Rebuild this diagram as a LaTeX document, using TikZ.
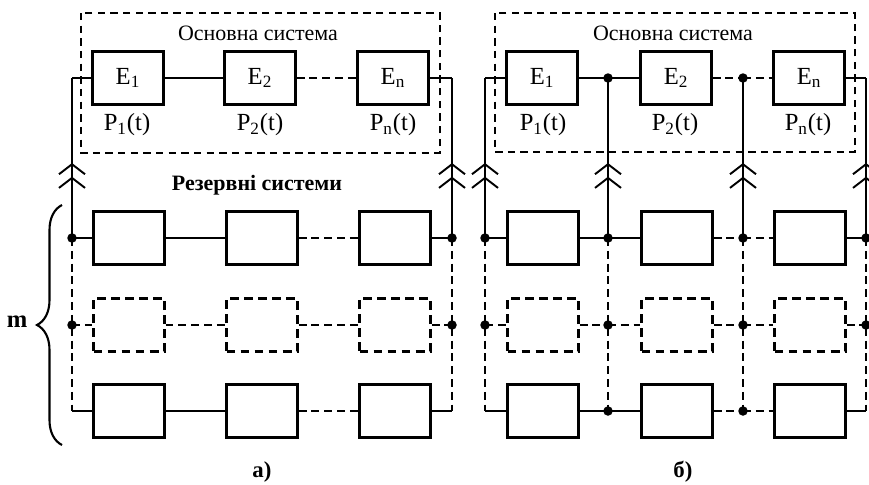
\documentclass[tikz,border=0pt]{standalone}
\usepackage{fontspec}
\setmainfont{Liberation Serif}
\usetikzlibrary{arrows.meta,decorations.pathreplacing}

\begin{document}
\begin{tikzpicture}[x=0.02cm,y=-0.02cm,
    elem/.style={draw,rectangle,line width=1.25pt,minimum width=1.42cm,minimum height=1.06cm,inner sep=0pt,font=\fontsize{14}{16}\selectfont},
    spare/.style={elem,dash pattern=on 5pt off 3pt},
    wire/.style={line width=1.1pt},
    dwire/.style={wire,dash pattern=on 4.5pt off 2.8pt},
    frame/.style={line width=1pt,dash pattern=on 4.2pt off 3pt},
    jdot/.style={circle,fill,inner sep=0pt,minimum size=0.19cm},
    plabel/.style={font=\fontsize{14}{16}\selectfont},
    title/.style={font=\fontsize{12.5}{15}\selectfont},
    dblbarb/.style={-{Straight Barb[length=0.2cm,width=0.52cm,sep=0.03cm]Straight Barb[length=0.2cm,width=0.52cm]}}]
    \useasboundingbox (0,0) rectangle (869,484);

    % ---- panel a ----
    \draw[frame] (81,13) rectangle (440,153);
    \node[title] (aMain) at (258,33) {Основна система};
    \node[elem] (aE1) at (128,78) {E\textsubscript{1}};
    \node[elem] (aE2) at (260,78) {E\textsubscript{2}};
    \node[elem] (aEn) at (393,78) {E\textsubscript{n}};
    \node[plabel] (aP1) at (127,125) {P\textsubscript{1}(t)};
    \node[plabel] (aP2) at (260,125) {P\textsubscript{2}(t)};
    \node[plabel] (aPn) at (393,125) {P\textsubscript{n}(t)};
    \node[title,font=\fontsize{12.5}{15}\selectfont\bfseries] (aRes) at (257,185) {Резервні системи};

    \node[elem] (aR11) at (129,238) {};
    \node[elem] (aR12) at (262,238) {};
    \node[elem] (aR13) at (395,238) {};
    \node[spare] (aR21) at (129,325) {};
    \node[spare] (aR22) at (262,325) {};
    \node[spare] (aR23) at (395,325) {};
    \node[elem] (aR31) at (129,411) {};
    \node[elem] (aR32) at (262,411) {};
    \node[elem] (aR33) at (395,411) {};

    \coordinate (alft0) at (72,78);
    \coordinate (alft1) at (72,238);
    \coordinate (alft2) at (72,325);
    \coordinate (alft3) at (72,411);
    \coordinate (argt0) at (452,78);
    \coordinate (argt1) at (452,238);
    \coordinate (argt2) at (452,325);
    \coordinate (argt3) at (452,411);
    \coordinate (achv1) at (72,163);
    \coordinate (achv2) at (452,163);

    \draw[wire] (alft0) -- (aE1);
    \draw[wire] (aE1) -- (aE2);
    \draw[dwire] (aE2) -- (aEn);
    \draw[wire] (aEn) -- (argt0);

    \draw[wire] (alft0) -- (alft1);
    \draw[wire] (argt0) -- (argt1);
    \draw[dwire] (alft1) -- (alft3);
    \draw[dwire] (argt1) -- (argt3);
    \draw[wire,dblbarb] (alft1) -- (achv1);
    \draw[wire,dblbarb] (argt1) -- (achv2);

    \draw[wire] (alft1) -- (aR11);
    \draw[wire] (aR11) -- (aR12);
    \draw[dwire] (aR12) -- (aR13);
    \draw[wire] (aR13) -- (argt1);
    \draw[dwire] (alft2) -- (aR21);
    \draw[dwire] (aR21) -- (aR22);
    \draw[dwire] (aR22) -- (aR23);
    \draw[dwire] (aR23) -- (argt2);
    \draw[wire] (alft3) -- (aR31);
    \draw[wire] (aR31) -- (aR32);
    \draw[dwire] (aR32) -- (aR33);
    \draw[wire] (aR33) -- (argt3);

    \node[jdot] at (alft1) {};
    \node[jdot] at (argt1) {};
    \node[jdot] at (alft2) {};
    \node[jdot] at (argt2) {};

    \draw[line width=1.2pt,decorate,decoration={brace,amplitude=0.5cm}] (62,445) -- (62,205);
    \node[title,font=\fontsize{14}{16}\selectfont\bfseries] (mlab) at (17,322) {m};
    \node[title,font=\fontsize{13}{15}\selectfont\bfseries] (aCap) at (262,472) {а)};

    % ---- panel b ----
    \draw[frame] (495,13) rectangle (855,152);
    \node[title] (bMain) at (673,33) {Основна система};
    \node[elem] (bE1) at (542,78) {E\textsubscript{1}};
    \node[elem] (bE2) at (676,78) {E\textsubscript{2}};
    \node[elem] (bEn) at (809,78) {E\textsubscript{n}};
    \node[plabel] (bP1) at (543,125) {P\textsubscript{1}(t)};
    \node[plabel] (bP2) at (675,125) {P\textsubscript{2}(t)};
    \node[plabel] (bPn) at (808,125) {P\textsubscript{n}(t)};

    \node[elem] (bR11) at (543,238) {};
    \node[elem] (bR12) at (677,238) {};
    \node[elem] (bR13) at (810,238) {};
    \node[spare] (bR21) at (543,325) {};
    \node[spare] (bR22) at (677,325) {};
    \node[spare] (bR23) at (810,325) {};
    \node[elem] (bR31) at (543,411) {};
    \node[elem] (bR32) at (677,411) {};
    \node[elem] (bR33) at (810,411) {};

    \coordinate (bw0) at (485,78);
    \coordinate (bw1) at (485,238);
    \coordinate (bw2) at (485,325);
    \coordinate (bw3) at (485,411);
    \coordinate (bj0) at (608,78);
    \coordinate (bj1) at (608,238);
    \coordinate (bj2) at (608,325);
    \coordinate (bj3) at (608,411);
    \coordinate (bk0) at (743,78);
    \coordinate (bk1) at (743,238);
    \coordinate (bk2) at (743,325);
    \coordinate (bk3) at (743,411);
    \coordinate (be0) at (866,78);
    \coordinate (be1) at (866,238);
    \coordinate (be2) at (866,325);
    \coordinate (be3) at (866,411);
    \coordinate (bchvw) at (485,163);
    \coordinate (bchvj) at (608,163);
    \coordinate (bchvk) at (743,163);
    \coordinate (bchve) at (866,163);

    \draw[wire] (bw0) -- (bE1);
    \draw[wire] (bE1) -- (bj0);
    \draw[wire] (bj0) -- (bE2);
    \draw[dwire] (bE2) -- (bk0);
    \draw[dwire] (bk0) -- (bEn);
    \draw[wire] (bEn) -- (be0);

    \draw[wire] (bw0) -- (bw1);
    \draw[wire] (bj0) -- (bj1);
    \draw[wire] (bk0) -- (bk1);
    \draw[wire] (be0) -- (be1);
    \draw[dwire] (bw1) -- (bw3);
    \draw[dwire] (bj1) -- (bj3);
    \draw[dwire] (bk1) -- (bk3);
    \draw[dwire] (be1) -- (be3);
    \draw[wire,dblbarb] (bw1) -- (bchvw);
    \draw[wire,dblbarb] (bj1) -- (bchvj);
    \draw[wire,dblbarb] (bk1) -- (bchvk);
    \draw[wire,dblbarb] (be1) -- (bchve);

    \draw[wire] (bw1) -- (bR11);
    \draw[wire] (bR11) -- (bj1);
    \draw[wire] (bj1) -- (bR12);
    \draw[dwire] (bR12) -- (bk1);
    \draw[dwire] (bk1) -- (bR13);
    \draw[wire] (bR13) -- (be1);
    \draw[dwire] (bw2) -- (bR21);
    \draw[dwire] (bR21) -- (bj2);
    \draw[dwire] (bj2) -- (bR22);
    \draw[dwire] (bR22) -- (bk2);
    \draw[dwire] (bk2) -- (bR23);
    \draw[dwire] (bR23) -- (be2);
    \draw[wire] (bw3) -- (bR31);
    \draw[wire] (bR31) -- (bj3);
    \draw[wire] (bj3) -- (bR32);
    \draw[dwire] (bR32) -- (bk3);
    \draw[dwire] (bk3) -- (bR33);
    \draw[wire] (bR33) -- (be3);

    \node[jdot] at (bj0) {};
    \node[jdot] at (bk0) {};
    \node[jdot] at (bw1) {};
    \node[jdot] at (bj1) {};
    \node[jdot] at (bk1) {};
    \node[jdot] at (be1) {};
    \node[jdot] at (bw2) {};
    \node[jdot] at (bj2) {};
    \node[jdot] at (bk2) {};
    \node[jdot] at (be2) {};
    \node[jdot] at (bj3) {};
    \node[jdot] at (bk3) {};

    \node[title,font=\fontsize{13}{15}\selectfont\bfseries] (bCap) at (683,472) {б)};
\end{tikzpicture}
\end{document}
